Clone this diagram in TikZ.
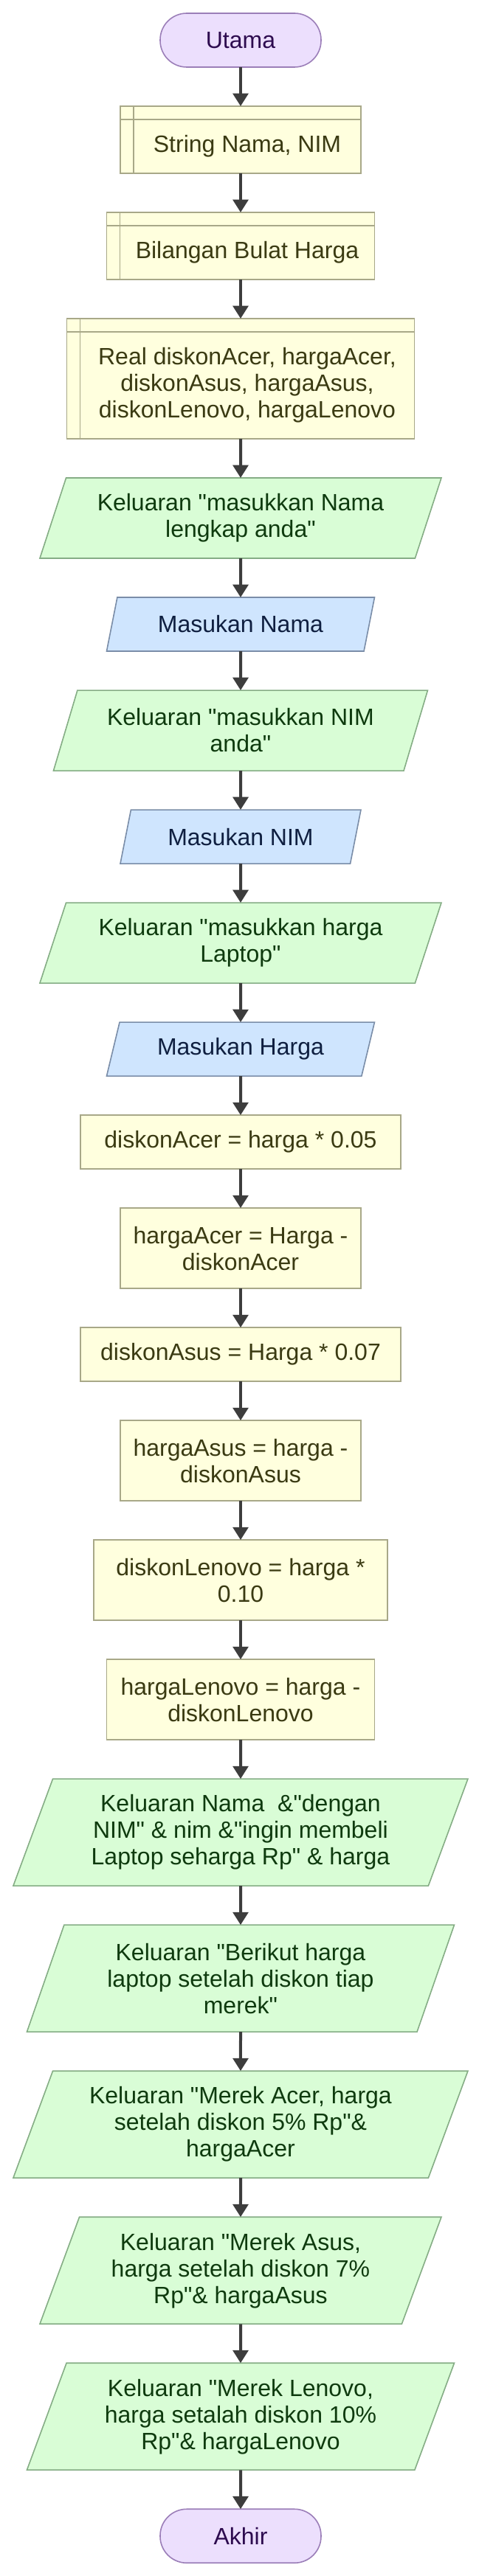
\documentclass[tikz,border=0pt]{standalone}
\usepackage{fontspec}
\setmainfont{Liberation Sans}[Ligatures=TeXOff]
\usetikzlibrary{shapes.geometric, arrows.meta, positioning}

\definecolor{termfill}{HTML}{ECDFFD}
\definecolor{termline}{HTML}{9B7EB8}
\definecolor{termtext}{HTML}{2D0B4F}
\definecolor{procfill}{HTML}{FFFFDE}
\definecolor{procline}{HTML}{A8A888}
\definecolor{proctext}{HTML}{3A3A12}
\definecolor{outpfill}{HTML}{D9FDD6}
\definecolor{outpline}{HTML}{85AD85}
\definecolor{outptext}{HTML}{0E3A0E}
\definecolor{inpfill}{HTML}{CFE5FE}
\definecolor{inpline}{HTML}{7A8DA8}
\definecolor{inptext}{HTML}{0F1F40}
\definecolor{arrowgray}{HTML}{3D3D3D}

\tikzstyle{base} = [line width=1.2pt, outer sep=0pt, inner sep=2pt, align=center, font=\fontsize{24}{27}\selectfont]
\tikzstyle{term} = [base, rectangle, rounded corners=27pt, minimum width=163.5pt, minimum height=54.75pt, draw=termline, fill=termfill, text=termtext]
\tikzstyle{decl} = [base, rectangle, draw=procline, fill=procfill,
  path picture={
    \draw [procline, line width=1.2pt]
      ([xshift=13.5pt]path picture bounding box.north west) -- ([xshift=13.5pt]path picture bounding box.south west)
      ([yshift=-13.5pt]path picture bounding box.north west) -- ([yshift=-13.5pt]path picture bounding box.north east);
  }]
\tikzstyle{decltext} = [align=center, inner sep=0pt, font=\fontsize{24}{27}\selectfont, text=proctext]
\tikzstyle{proc} = [base, rectangle, draw=procline, fill=procfill, text=proctext]
\tikzstyle{outp} = [base, trapezium, trapezium left angle=63.43, trapezium right angle=116.57, trapezium stretches body, draw=outpline, fill=outpfill, text=outptext]
\tikzstyle{inp}  = [base, trapezium, trapezium left angle=63.43, trapezium right angle=116.57, trapezium stretches body, draw=inpline, fill=inpfill, text=inptext]
\tikzstyle{arrow} = [-{Triangle[length=13pt, width=15.5pt]}, line width=3pt, draw=arrowgray]

\begin{document}
\begin{tikzpicture}[node distance=39.75pt]
    \useasboundingbox (0,0) rectangle (486.75pt,-2619.75pt);

    \node (start) [term, anchor=north] at (244.5pt,-13.5pt) {Utama};

    \node (declStr)  [decl, below=of start, minimum width=244.5pt, minimum height=68.25pt] {};
    \node (declStrTxt)  [decltext] at ([shift={(6.75pt,-6.75pt)}]declStr.center)
      {String Nama, NIM};
    \node (declInt)  [decl, below=of declStr, minimum width=272.25pt, minimum height=68.25pt] {};
    \node (declIntTxt)  [decltext] at ([shift={(6.75pt,-6.75pt)}]declInt.center)
      {Bilangan Bulat Harga};
    \node (declReal) [decl, below=of declInt, minimum width=353.25pt, minimum height=122.25pt] {};
    \node (declRealTxt) [decltext] at ([shift={(6.75pt,-6.75pt)}]declReal.center)
      {Real diskonAcer, hargaAcer, \\ diskonAsus, hargaAsus, \\ diskonLenovo, hargaLenovo};

    \node (askName)   [outp, below=of declReal, minimum width=408pt, minimum height=81.75pt]
      {Keluaran "masukkan Nama \\ lengkap anda"};
    \node (readName)  [inp, below=of askName, minimum width=272.25pt, minimum height=54.75pt]
      {Masukan Nama};
    \node (askNim)    [outp, below=of readName, minimum width=380.25pt, minimum height=81.75pt]
      {Keluaran "masukkan NIM \\ anda"};
    \node (readNim)   [inp, below=of askNim, minimum width=244.5pt, minimum height=54.75pt]
      {Masukan NIM};
    \node (askPrice)  [outp, below=of readNim, minimum width=408pt, minimum height=81.75pt]
      {Keluaran "masukkan harga \\ Laptop"};
    \node (readPrice) [inp, below=of askPrice, minimum width=272.25pt, minimum height=54.75pt]
      {Masukan Harga};

    \node (discAcer)    [proc, below=of readPrice, minimum width=325.5pt, minimum height=54.75pt]
      {diskonAcer = harga * 0.05};
    \node (priceAcer)   [proc, below=of discAcer, minimum width=244.5pt, minimum height=81.75pt]
      {hargaAcer = Harga - \\ diskonAcer};
    \node (discAsus)    [proc, below=of priceAcer, minimum width=325.5pt, minimum height=54.75pt]
      {diskonAsus = Harga * 0.07};
    \node (priceAsus)   [proc, below=of discAsus, minimum width=244.5pt, minimum height=81.75pt]
      {hargaAsus = harga - \\ diskonAsus};
    \node (discLenovo)  [proc, below=of priceAsus, minimum width=298.5pt, minimum height=81.75pt]
      {diskonLenovo = harga * \\ 0.10};
    \node (priceLenovo) [proc, below=of discLenovo, minimum width=272.25pt, minimum height=81.75pt]
      {hargaLenovo = harga - \\ diskonLenovo};

    \node (showBuy)    [outp, below=of priceLenovo, minimum width=462pt, minimum height=108.75pt]
      {Keluaran Nama\ \ \&"dengan \\ NIM" \& nim \&"ingin membeli \\ Laptop seharga Rp" \& harga};
    \node (showHead)   [outp, below=of showBuy, minimum width=434.25pt, minimum height=108.75pt]
      {Keluaran "Berikut harga \\ laptop setelah diskon tiap \\ merek"};
    \node (showAcer)   [outp, below=of showHead, minimum width=462pt, minimum height=108.75pt]
      {Keluaran "Merek Acer, harga \\ setelah diskon 5\% Rp"\& \\ hargaAcer};
    \node (showAsus)   [outp, below=of showAcer, minimum width=408pt, minimum height=108.75pt]
      {Keluaran "Merek Asus, \\ harga setelah diskon 7\% \\ Rp"\& hargaAsus};
    \node (showLenovo) [outp, below=of showAsus, minimum width=434.25pt, minimum height=108.75pt]
      {Keluaran "Merek Lenovo, \\ harga setalah diskon 10\% \\ Rp"\& hargaLenovo};

    \node (stop) [term, below=of showLenovo] {Akhir};

    \draw [arrow] (start)       -- (declStr);
    \draw [arrow] (declStr)     -- (declInt);
    \draw [arrow] (declInt)     -- (declReal);
    \draw [arrow] (declReal)    -- (askName);
    \draw [arrow] (askName)     -- (readName);
    \draw [arrow] (readName)    -- (askNim);
    \draw [arrow] (askNim)      -- (readNim);
    \draw [arrow] (readNim)     -- (askPrice);
    \draw [arrow] (askPrice)    -- (readPrice);
    \draw [arrow] (readPrice)   -- (discAcer);
    \draw [arrow] (discAcer)    -- (priceAcer);
    \draw [arrow] (priceAcer)   -- (discAsus);
    \draw [arrow] (discAsus)    -- (priceAsus);
    \draw [arrow] (priceAsus)   -- (discLenovo);
    \draw [arrow] (discLenovo)  -- (priceLenovo);
    \draw [arrow] (priceLenovo) -- (showBuy);
    \draw [arrow] (showBuy)     -- (showHead);
    \draw [arrow] (showHead)    -- (showAcer);
    \draw [arrow] (showAcer)    -- (showAsus);
    \draw [arrow] (showAsus)    -- (showLenovo);
    \draw [arrow] (showLenovo)  -- (stop);
  \end{tikzpicture}
\end{document}
